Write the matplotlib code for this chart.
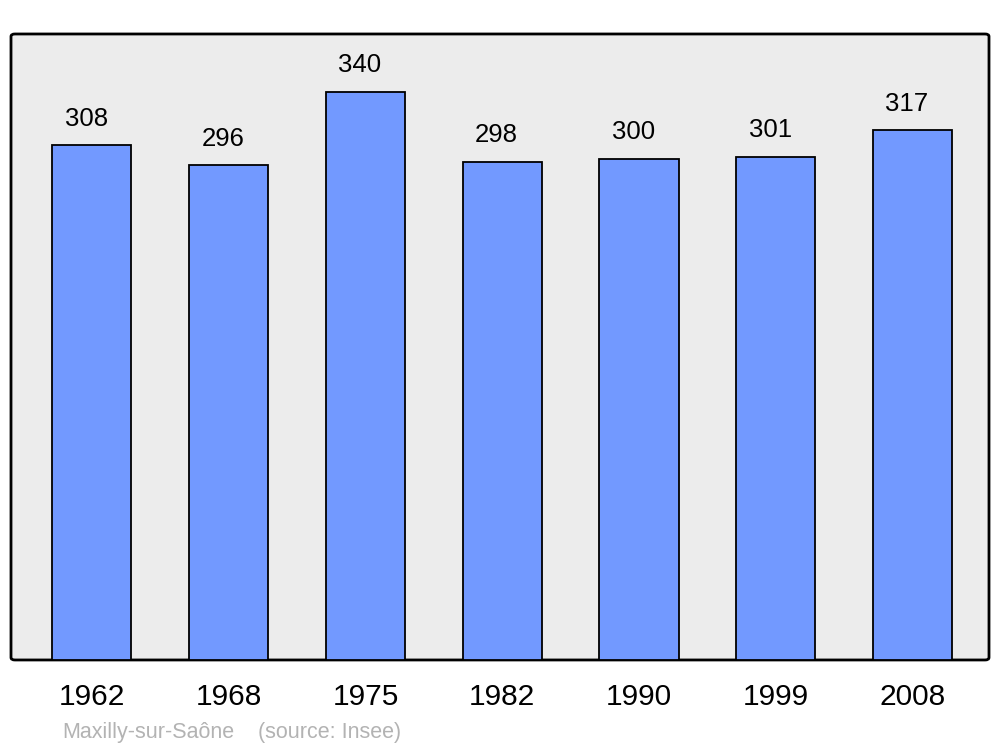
import matplotlib.pyplot as plt
from matplotlib.patches import FancyBboxPatch

plt.rcParams['font.family'] = ['Liberation Sans', 'DejaVu Sans']

# data
years = ["1962", "1968", "1975", "1982", "1990", "1999", "2008"]
population = [308, 296, 340, 298, 300, 301, 317]
town = "Maxilly-sur-Saône"
source = "(source: Insee)"

fig = plt.figure(figsize=(10, 7.47), dpi=100)
ax = fig.add_axes([0.011, 0.1165, 0.978, 0.838])

# rounded grey frame
for s in ax.spines.values():
    s.set_visible(False)
ax.patch.set_visible(False)
frame = FancyBboxPatch((0, 0), 1, 1, boxstyle="round,pad=0,rounding_size=0.004",
                       transform=ax.transAxes, facecolor="#ececec",
                       edgecolor="black", linewidth=2, zorder=0, clip_on=False)
ax.add_patch(frame)

x = list(range(len(years)))
ax.bar(x, population, width=0.578, color="#7299ff", edgecolor="black",
       linewidth=1.3, zorder=2)

for xi, v in zip(x, population):
    ax.annotate(str(v), (xi, v), xytext=(-4, 10.5), textcoords="offset points",
                ha="center", va="bottom", fontsize=18.5)

ax.set_xlim(-0.592, len(years) - 1 + 0.559)
ax.set_ylim(0, 374.6)
ax.set_yticks([])
ax.set_xticks(x)
ax.set_xticklabels(years, fontsize=21.5)
ax.tick_params(axis="x", length=0, pad=16.5)

fig.text(0.062, 0.012, town, color="#b3b3b3", fontsize=15.5)
fig.text(0.258, 0.012, source, color="#b3b3b3", fontsize=15.5)

fig.savefig("out.png", dpi=100)
